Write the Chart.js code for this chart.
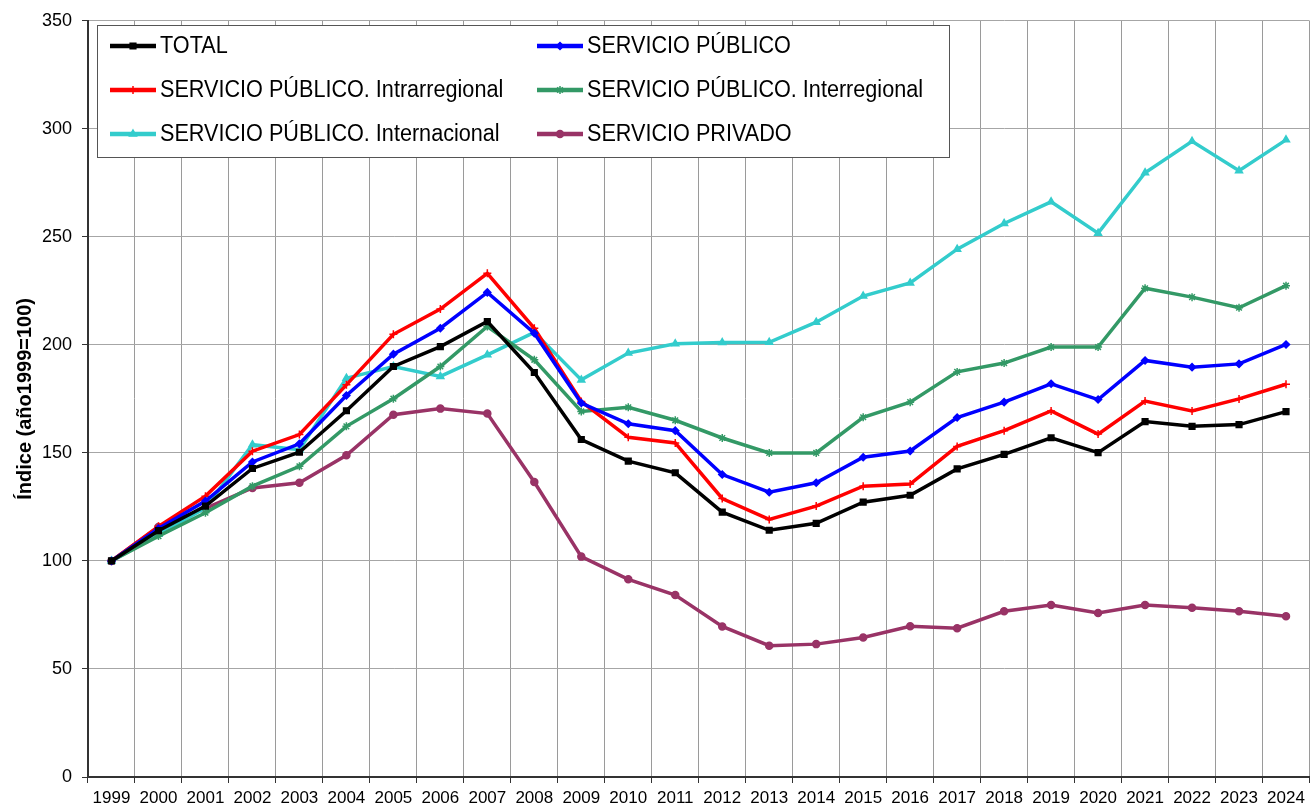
<!DOCTYPE html>
<html>
<head>
<meta charset="utf-8">
<title>Índice de tráfico</title>
<script src="https://cdn.jsdelivr.net/npm/chart.js@4/dist/chart.umd.min.js"></script>
<style>
  html, body { margin: 0; padding: 0; background: #fff; }
  #wrap { width: 1315px; height: 807px; }
</style>
</head>
<body>
<div id="wrap"><canvas id="chart" width="1315" height="807"></canvas></div>
<script>
// años
const years = ['1999','2000','2001','2002','2003','2004','2005','2006','2007','2008','2009','2010','2011',
  '2012','2013','2014','2015','2016','2017','2018','2019','2020','2021','2022','2023','2024']

const yTicks = [0, 50, 100, 150, 200, 250, 300, 350]

// series (índice, 1999 = 100)
const total = [100,114,125.4,142.8,150.3,169.5,190,199.2,210.8,187.2,156.2,146.2,140.8,122.6,114.2,117.4,
  127.2,130.4,142.6,149.3,157,150.1,164.5,162.3,163.1,169.1]
const publico = [100,115,127.7,145.8,154.2,176.6,195.7,207.7,224.3,205.4,173.1,163.5,160.3,140,131.8,136.2,
  148,150.9,166.4,173.5,182,174.7,192.8,189.7,191.2,200.2]
const intrarregional = [100,116,130,150.8,158.5,181.5,204.9,216.6,233.1,207.7,173.8,157.2,154.6,128.9,119.2,125.4,
  134.6,135.6,153,160.3,169.4,158.7,174,169.4,175,181.8]
const interregional = [100,111.5,122.3,134.6,143.8,162.3,175.1,190,208.5,193.1,169.2,171.1,165.1,156.9,150,150,
  166.5,173.5,187.5,191.6,199,199,226.2,222.1,217.2,227.4]
const internacional = [100,112.3,124.6,153.8,151.5,184.6,190,185.4,195.4,205.8,183.8,196.2,200.5,201.1,201.2,210.5,
  222.6,228.7,244.3,256.2,266.2,251.7,279.7,294.2,280.6,294.9]
const privado = [100,115.7,124.3,133.8,136.2,148.9,167.7,170.5,168.2,136.5,102,91.5,84.2,69.7,60.8,61.5,
  64.6,69.8,68.9,76.7,79.6,75.9,79.6,78.3,76.7,74.4]

const FONT = "'Liberation Sans', Arial, sans-serif"

function serie(label, data, color, pointStyle, radius) {
  return {
    label: label,
    data: data,
    borderColor: color,
    backgroundColor: color,
    borderWidth: 3.5,
    pointStyle: pointStyle,
    pointRadius: radius,
    pointBorderWidth: 1.5,
    pointBorderColor: color,
    pointBackgroundColor: color,
    tension: 0,
    fill: false
  }
}

// leyenda dibujada dentro del área del gráfico
const legendBox = {
  id: 'legendBox',
  afterDraw(chart) {
    const ctx = chart.ctx
    const ds = chart.data.datasets
    ctx.save()
    ctx.fillStyle = '#ffffff'
    ctx.strokeStyle = '#555555'
    ctx.lineWidth = 1
    ctx.fillRect(97.5, 25.5, 852, 132)
    ctx.strokeRect(97.5, 25.5, 852, 132)

    const cols = [110, 537]
    const rows = [46, 90, 134]
    ctx.font = '23px ' + FONT
    ctx.textBaseline = 'middle'
    ctx.textAlign = 'left'
    ds.forEach((d, i) => {
      const x = cols[i % 2]
      const y = rows[Math.floor(i / 2)]
      ctx.strokeStyle = d.borderColor
      ctx.lineWidth = 4.5
      ctx.beginPath()
      ctx.moveTo(x, y)
      ctx.lineTo(x + 46, y)
      ctx.stroke()
      ctx.fillStyle = d.borderColor
      ctx.lineWidth = 1.5
      Chart.helpers.drawPoint(ctx, { pointStyle: d.pointStyle, radius: d.pointRadius, rotation: 0, borderWidth: 1.5 }, x + 23, y)
      ctx.fillStyle = '#000000'
      ctx.save()
      ctx.translate(x + 50, y + 1)
      ctx.scale(0.94, 1)
      ctx.fillText(d.label, 0, 0)
      ctx.restore()
    })
    ctx.restore()
  }
}

new Chart(document.getElementById('chart'), {
  type: 'line',
  data: {
    labels: years,
    datasets: [
      serie('TOTAL', total, '#000000', 'rect', 4),
      serie('SERVICIO PÚBLICO', publico, '#0000ff', 'rectRot', 3.5),
      serie('SERVICIO PÚBLICO. Intrarregional', intrarregional, '#ff0000', 'cross', 4),
      serie('SERVICIO PÚBLICO. Interregional', interregional, '#339966', 'star', 4),
      serie('SERVICIO PÚBLICO. Internacional', internacional, '#33cccc', 'triangle', 4),
      serie('SERVICIO PRIVADO', privado, '#993366', 'circle', 3.5)
    ]
  },
  options: {
    responsive: false,
    animation: false,
    layout: { padding: { top: 19, right: 2, left: 0, bottom: 0 } },
    plugins: {
      legend: { display: false },
      tooltip: { enabled: false }
    },
    scales: {
      x: {
        offset: true,
        grid: { offset: true, color: '#9a9a9a', lineWidth: 1, tickLength: 6, tickColor: '#333333' },
        border: { color: '#333333', width: 2 },
        ticks: { color: '#000000', font: { family: FONT, size: 17 }, padding: 5, maxRotation: 0, autoSkip: false },
        afterFit(scale) { scale.height = 30 }
      },
      y: {
        min: 0,
        max: 350,
        afterBuildTicks(scale) { scale.ticks = yTicks.map(v => ({ value: v })) },
        grid: { color: '#a6a6a6', lineWidth: 1, tickLength: 6, tickColor: '#333333' },
        border: { color: '#333333', width: 2 },
        ticks: { color: '#000000', font: { family: FONT, size: 18 }, padding: 10 },
        title: {
          display: true,
          text: 'Índice (año1999=100)',
          color: '#000000',
          font: { family: FONT, size: 20, weight: 'bold' },
          padding: { top: 13, bottom: 0 }
        },
        afterFit(scale) { scale.width = 88 }
      }
    }
  },
  plugins: [legendBox]
})
</script>
</body>
</html>
